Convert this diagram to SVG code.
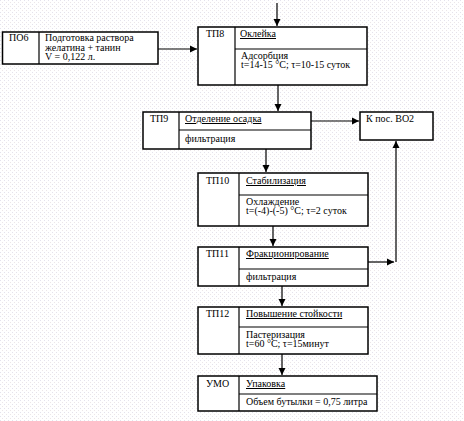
<svg xmlns="http://www.w3.org/2000/svg" width="464" height="421" viewBox="0 0 464 421">
<defs>
<pattern id="bg" width="4" height="4" patternUnits="userSpaceOnUse">
<rect width="4" height="4" fill="#ffffff"/>
<rect x="0" y="0" width="1" height="1" fill="#e4e2ec"/>
<rect x="2" y="2" width="1" height="1" fill="#ece6e8"/>
</pattern>
<marker id="ah" markerWidth="8" markerHeight="8" refX="7" refY="4" orient="auto" markerUnits="userSpaceOnUse">
<path d="M0,0.5 L7,4 L0,7.5 Z" fill="#000"/>
</marker>
</defs>
<style>
.box{fill:#fff;stroke:#000;stroke-width:1.5}
.ln{stroke:#000;stroke-width:1.2;fill:none}
.t{font-family:"Liberation Serif","Times New Roman",serif;font-size:10px;fill:#000}
.u{text-decoration:underline}
.c{stroke:#000;stroke-width:1.2;fill:none;marker-end:url(#ah)}
</style>
<rect width="464" height="421" fill="url(#bg)"/>

<g id="connectors">
<path class="c" d="M277,3 V26"/>
<path class="c" d="M158,49 H197"/>
<path class="c" d="M278,85 V111"/>
<path class="c" d="M311,121 H359"/>
<path class="c" d="M266,149 V172"/>
<path class="c" d="M273,226 V246"/>
<path class="c" d="M368,262 H394"/>
<path class="c" d="M396,262 V141"/>
<path class="c" d="M282,286 V306"/>
<path class="c" d="M282,354 V375"/>
</g>

<g id="PO6">
<rect class="box" x="2.5" y="32" width="155.5" height="32"/>
<line class="ln" x1="39" y1="32" x2="39" y2="64"/>
<text class="t" x="9" y="41">ПО6</text>
<text class="t" x="45" y="41">Подготовка раствора</text>
<text class="t" x="45" y="50.5">желатина + танин</text>
<text class="t" x="45" y="60">V = 0,122 л.</text>
</g>

<g id="TP8">
<rect class="box" x="198" y="27" width="169" height="58"/>
<line class="ln" x1="235" y1="27" x2="235" y2="85"/>
<line class="ln" x1="235" y1="49" x2="367" y2="49"/>
<text class="t" x="206" y="37">ТП8</text>
<text class="t u" x="240" y="37">Оклейка</text>
<text class="t" x="241" y="58.5">Адсорбция</text>
<text class="t" x="241" y="68">t=14-15 °С; τ=10-15 суток</text>
</g>

<g id="TP9">
<rect class="box" x="143" y="112" width="168" height="37"/>
<line class="ln" x1="179" y1="112" x2="179" y2="149"/>
<line class="ln" x1="179" y1="130" x2="311" y2="130"/>
<text class="t" x="150" y="122">ТП9</text>
<text class="t u" x="185" y="122">Отделение осадка</text>
<text class="t" x="185" y="142">фильтрация</text>
</g>

<g id="K">
<rect class="box" x="360" y="112" width="73" height="28"/>
<text class="t" x="366" y="122">К пос. ВО2</text>
</g>

<g id="TP10">
<rect class="box" x="198" y="173" width="170" height="53"/>
<line class="ln" x1="239" y1="173" x2="239" y2="226"/>
<line class="ln" x1="239" y1="195" x2="368" y2="195"/>
<text class="t" x="206" y="184">ТП10</text>
<text class="t u" x="246" y="184">Стабилизация</text>
<text class="t" x="246" y="204.5">Охлаждение</text>
<text class="t" x="246" y="214">t=(-4)-(-5) °С; τ=2 суток</text>
</g>

<g id="TP11">
<rect class="box" x="198" y="247" width="170" height="39"/>
<line class="ln" x1="239" y1="247" x2="239" y2="286"/>
<line class="ln" x1="239" y1="269" x2="368" y2="269"/>
<text class="t" x="206" y="257">ТП11</text>
<text class="t u" x="246" y="257">Фракционирование</text>
<text class="t" x="246" y="280">фильтрация</text>
</g>

<g id="TP12">
<rect class="box" x="198" y="307" width="170" height="47"/>
<line class="ln" x1="239" y1="307" x2="239" y2="354"/>
<line class="ln" x1="239" y1="327" x2="368" y2="327"/>
<text class="t" x="206" y="317">ТП12</text>
<text class="t u" x="246" y="317">Повышение стойкости</text>
<text class="t" x="246" y="337.5">Пастеризация</text>
<text class="t" x="246" y="347">t=60 °С; τ=15минут</text>
</g>

<g id="UMO">
<rect class="box" x="198" y="376" width="179" height="35"/>
<line class="ln" x1="239" y1="376" x2="239" y2="411"/>
<line class="ln" x1="239" y1="394" x2="377" y2="394"/>
<text class="t" x="206" y="387">УМО</text>
<text class="t u" x="246" y="387">Упаковка</text>
<text class="t" x="246" y="405">Объем бутылки = 0,75 литра</text>
</g>
</svg>
